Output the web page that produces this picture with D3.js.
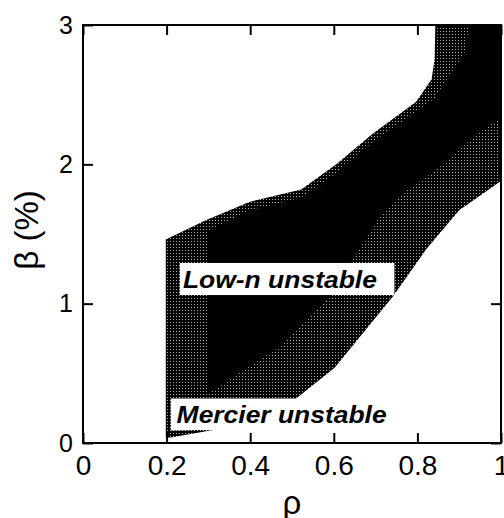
<!DOCTYPE html>
<html lang="en">
	<head>
		<meta charset="utf-8">
		<title>Stability diagram</title>
		<script type="text/javascript" src="https://cdn.jsdelivr.net/npm/d3@7"></script>
		<style type="text/css">
			body { margin: 0; background: #fff; }
			text { font-family: "Liberation Sans", Arial, sans-serif; }
		</style>
	</head>
	<body>
		<script type="text/javascript">

			//Width and height
			var w = 504;
			var h = 518;
			var margin = {top: 25, right: 3, bottom: 75, left: 83};

			//Tick values and labels
			var xTicks = [0, 0.2, 0.4, 0.6, 0.8, 1];
			var xTickLabels = ["0", "0.2", "0.4", "0.6", "0.8", "1"];
			var yTicks = [0, 1, 2, 3];
			var yTickLabels = ["0", "1", "2", "3"];

			//Mercier unstable boundary (rho, beta %), stippled band
			var mercierUpper = [[0.198, 0.04], [0.198, 1.46], [0.295, 1.60], [0.398, 1.73], [0.522, 1.82],
				[0.606, 2.0], [0.693, 2.22], [0.797, 2.45], [0.834, 2.61], [0.841, 2.75], [0.843, 3.0], [1, 3]];
			var mercierLower = [[1, 1.88], [0.900, 1.67], [0.821, 1.39], [0.741, 1.05], [0.602, 0.54],
				[0.510, 0.32], [0.21, 0.32], [0.21, 0.09], [0.315, 0.095], [0.23, 0.05], [0.21, 0.04]];

			//Low-n unstable boundary, solid black core
			var lowNUpper = [[0.298, 0.345], [0.298, 1.52], [0.398, 1.67], [0.522, 1.76], [0.606, 1.94],
				[0.693, 2.16], [0.797, 2.38], [0.84, 2.47], [0.871, 2.61], [0.912, 2.79], [0.924, 3.0], [1, 3]];
			var lowNLower = [[1, 2.34], [0.926, 2.175], [0.845, 1.96], [0.766, 1.795], [0.709, 1.62],
				[0.589, 1.05], [0.470, 0.69], [0.296, 0.345]];

			//Region labels: text, box corners (rho, beta), text anchor point
			var labelNames = ["Low-n unstable", "Mercier unstable"];
			var labelBoxes = [[0.2315, 1.292, 0.745, 1.062], [0.215, 0.309, 0.728, 0.093]];
			var labelAnchors = [[0.239, 1.113], [0.224, 0.144]];

			var iw = w - margin.left - margin.right;
			var ih = h - margin.top - margin.bottom;

			var x = d3.scaleLinear().domain([0, 1]).range([0, iw]);
			var y = d3.scaleLinear().domain([0, 3]).range([ih, 0]);

			//Create SVG element
			var svg = d3.select("body")
						.append("svg")
						.attr("width", w)
						.attr("height", h);

			var defs = svg.append("defs");

			//Stipple: black with sparse grey dots
			var pat = defs.append("pattern")
				.attr("id", "stipple")
				.attr("patternUnits", "userSpaceOnUse")
				.attr("width", 3)
				.attr("height", 3);
			pat.append("rect").attr("width", 3).attr("height", 3).attr("fill", "#000");
			pat.append("rect").attr("width", 1).attr("height", 1).attr("fill", "#b0b0b0");

			defs.append("clipPath").attr("id", "plotclip")
				.append("rect").attr("width", iw).attr("height", ih);

			var g = svg.append("g")
				.attr("transform", "translate(" + margin.left + "," + margin.top + ")");

			var line = d3.line()
				.x(function(d) { return x(d[0]); })
				.y(function(d) { return y(d[1]); });

			var regions = g.append("g").attr("clip-path", "url(#plotclip)");

			regions.append("path")
				.attr("d", line(mercierUpper.concat(mercierLower)) + "Z")
				.attr("fill", "url(#stipple)");

			regions.append("path")
				.attr("d", line(lowNUpper.concat(lowNLower)) + "Z")
				.attr("fill", "#000");

			//Label boxes
			g.selectAll("rect.lbox")
				.data(labelBoxes)
				.enter()
				.append("rect")
				.attr("class", "lbox")
				.attr("x", function(d) { return x(d[0]); })
				.attr("y", function(d) { return y(d[1]); })
				.attr("width", function(d) { return x(d[2]) - x(d[0]); })
				.attr("height", function(d) { return y(d[3]) - y(d[1]); })
				.attr("fill", "#fff");

			var textLen = [194, 210];
			g.selectAll("text.lbl")
				.data(labelNames)
				.enter()
				.append("text")
				.attr("class", "lbl")
				.attr("x", function(d, i) { return x(labelAnchors[i][0]); })
				.attr("y", function(d, i) { return y(labelAnchors[i][1]); })
				.attr("textLength", function(d, i) { return textLen[i]; })
				.attr("lengthAdjust", "spacingAndGlyphs")
				.style("font-size", "23px")
				.style("font-weight", "bold")
				.style("font-style", "italic")
				.text(function(d) { return d; });

			//Axes with inward ticks
			var xAxis = d3.axisBottom(x)
				.tickValues(xTicks)
				.tickSize(-10)
				.tickPadding(12)
				.tickFormat(function(d, i) { return xTickLabels[i]; });

			var yAxis = d3.axisLeft(y)
				.tickValues(yTicks)
				.tickSize(-10)
				.tickPadding(10)
				.tickFormat(function(d, i) { return yTickLabels[i]; });

			var gx = g.append("g")
				.attr("transform", "translate(0," + ih + ")")
				.call(xAxis);
			gx.selectAll("text").style("font-size", "28px").attr("fill", "#000");

			var gy = g.append("g").call(yAxis);
			gy.selectAll("text").style("font-size", "25px").attr("fill", "#000");

			g.append("g").call(d3.axisTop(x).tickValues(xTicks).tickSize(-10).tickFormat(""));
			g.append("g").attr("transform", "translate(" + iw + ",0)")
				.call(d3.axisRight(y).tickValues(yTicks).tickSize(-10).tickFormat(""));

			g.selectAll(".domain").remove();
			g.selectAll(".tick line").attr("stroke", "#000").attr("stroke-width", 2);

			//Frame
			g.append("rect")
				.attr("width", iw)
				.attr("height", ih)
				.attr("fill", "none")
				.attr("stroke", "#000")
				.attr("stroke-width", 2);

			//Axis titles
			svg.append("text")
				.attr("x", margin.left + iw / 2)
				.attr("y", 514)
				.attr("text-anchor", "middle")
				.style("font-size", "33px")
				.text("ρ");

			svg.append("text")
				.attr("transform", "translate(38," + 230 + ") rotate(-90)")
				.attr("text-anchor", "middle")
				.style("font-size", "33px")
				.text("β (%)");

		</script>
	</body>
</html>
